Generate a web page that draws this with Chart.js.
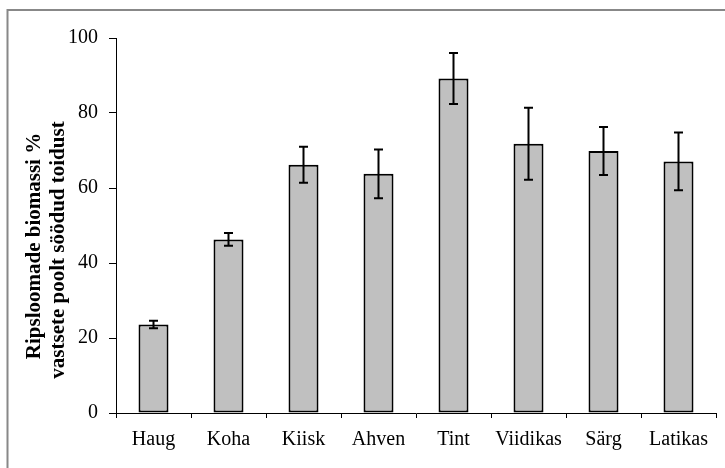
<!DOCTYPE html>
<html>
<head>
<meta charset="utf-8">
<script src="https://cdn.jsdelivr.net/npm/chart.js@4"></script>
<style>
  body { margin: 0; background: #fff; }
</style>
</head>
<body>
<canvas id="chart" width="725" height="468"></canvas>
<script>
const species = ['Haug', 'Koha', 'Kiisk', 'Ahven', 'Tint', 'Viidikas', 'Särg', 'Latikas'];
const share = [23.6, 46.3, 66.2, 63.8, 89.2, 71.8, 69.9, 67.1];
const spread = [1.0, 1.7, 4.8, 6.5, 6.8, 9.6, 6.4, 7.7];
const yMin = 0;
const yMax = 100;
const yStep = 20;
const titleLines = ['Ripsloomade biomassi %', 'vastsete poolt söödud toidust'];

const serif = '"Liberation Serif", "Times New Roman", serif';

// gray frame round the chart (right and bottom edges fall outside the picture)
const frame = {
  id: 'frame',
  beforeDraw(chart) {
    const ctx = chart.ctx;
    ctx.save();
    ctx.strokeStyle = '#888';
    ctx.lineWidth = 2;
    ctx.strokeRect(7.5, 10, chart.width + 20, chart.height + 20);
    ctx.restore();
  }
};

// error bars from the value scale
const errorBars = {
  id: 'errorBars',
  afterDatasetsDraw(chart) {
    const ctx = chart.ctx;
    const y = chart.scales.y;
    const meta = chart.getDatasetMeta(0);
    ctx.save();
    ctx.strokeStyle = '#000';
    ctx.lineWidth = 2;
    meta.data.forEach((bar, i) => {
      const top = y.getPixelForValue(share[i] + spread[i]);
      const bottom = y.getPixelForValue(share[i] - spread[i]);
      ctx.beginPath();
      ctx.moveTo(bar.x, top);
      ctx.lineTo(bar.x, bottom);
      ctx.moveTo(bar.x - 4.5, top);
      ctx.lineTo(bar.x + 4.5, top);
      ctx.moveTo(bar.x - 4.5, bottom);
      ctx.lineTo(bar.x + 4.5, bottom);
      ctx.stroke();
    });
    ctx.restore();
  }
};

// two-line rotated y title
const yTitle = {
  id: 'yTitle',
  afterDraw(chart) {
    const ctx = chart.ctx;
    ctx.save();
    ctx.fillStyle = '#000';
    ctx.font = 'bold 21px ' + serif;
    ctx.textAlign = 'center';
    ctx.textBaseline = 'alphabetic';
    const spots = [[40, 246], [64, 250]];
    titleLines.forEach((line, i) => {
      ctx.save();
      ctx.translate(spots[i][0], spots[i][1]);
      ctx.rotate(-Math.PI / 2);
      ctx.fillText(line, 0, 0);
      ctx.restore();
    });
    ctx.restore();
  }
};

new Chart(document.getElementById('chart').getContext('2d'), {
  type: 'bar',
  data: {
    labels: species,
    datasets: [{
      data: share,
      backgroundColor: '#c0c0c0',
      borderColor: '#000',
      borderWidth: 2,
      borderSkipped: false,
      categoryPercentage: 1,
      barPercentage: 0.4
    }]
  },
  options: {
    responsive: false,
    animation: false,
    devicePixelRatio: 1,
    layout: { padding: { top: 38, right: 9, left: 0, bottom: 0 } },
    plugins: {
      legend: { display: false },
      tooltip: { enabled: false }
    },
    scales: {
      x: {
        afterFit: (s) => { s.height = 55; },
        grid: { drawOnChartArea: false, drawTicks: true, tickLength: 5, color: '#000', offset: true },
        border: { color: '#000', width: 1 },
        ticks: { color: '#000', font: { family: serif, size: 20 }, padding: 10, maxRotation: 0 }
      },
      y: {
        min: yMin,
        max: yMax,
        afterFit: (s) => { s.width = 116; },
        grid: { drawOnChartArea: false, drawTicks: true, tickLength: 7, color: '#000' },
        border: { color: '#000', width: 1 },
        ticks: { stepSize: yStep, color: '#000', font: { family: serif, size: 20 }, padding: 11 }
      }
    }
  },
  plugins: [frame, errorBars, yTitle]
});
</script>
</body>
</html>
